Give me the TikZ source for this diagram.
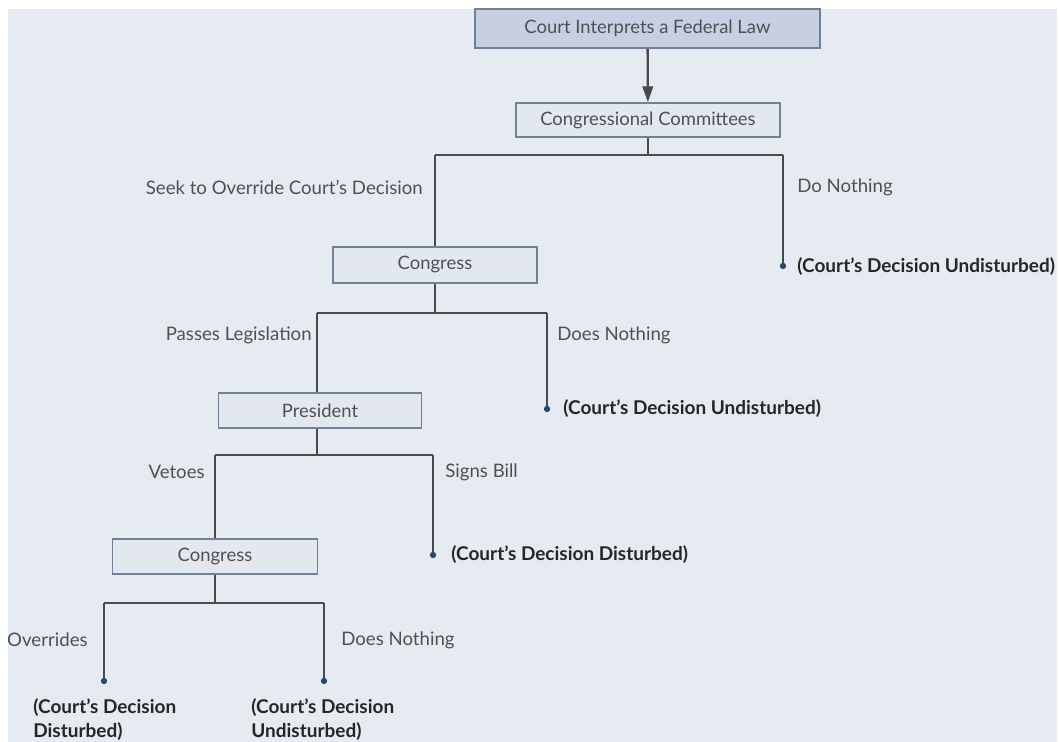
\documentclass[tikz,border=0pt]{standalone}
\usepackage{fontspec}
\setmainfont{Lato}
\usepackage{tikz}
\usetikzlibrary{positioning, arrows.meta}
\definecolor{bgcol}{RGB}{230,235,242}
\definecolor{boxfill}{RGB}{226,231,240}
\definecolor{topfill}{RGB}{198,208,226}
\definecolor{boxline}{RGB}{112,128,150}
\definecolor{linecol}{RGB}{72,74,78}
\definecolor{txtcol}{RGB}{80,80,84}
\definecolor{dotcol}{RGB}{40,70,118}

\tikzset{
  box/.style={draw=boxline, fill=boxfill, line width=1pt, inner sep=0pt,
    text=txtcol, font=\fontsize{10.5}{12}\selectfont},
  topbox/.style={box, fill=topfill},
  branch/.style={draw=linecol, line width=1.1pt},
  choice/.style={text=txtcol, font=\fontsize{10.6}{12}\selectfont, inner sep=0pt},
  result/.style={text=black!85, font=\bfseries\fontsize{10.8}{13.6}\selectfont,
    inner sep=0pt, align=left}
}

\begin{document}
\begin{tikzpicture}[x=0.02cm, y=-0.02cm]

% Fundo
\useasboundingbox (0,0) rectangle (1059,742);
\fill[bgcol] (8,9) rectangle (1057,742);

% Caixas
\node[topbox, minimum width=6.9cm, minimum height=0.78cm] (law) at (647.5,28.5) {Court Interprets a Federal Law};
\node[box, minimum width=5.28cm, minimum height=0.68cm] (cc) at (648,120) {Congressional Committees};
\node[box, minimum width=4.08cm, minimum height=0.72cm] (cong) at (435,265) {Congress};
\node[box, minimum width=4.06cm, minimum height=0.7cm] (pres) at (320,410.5) {President};
\node[box, minimum width=4.1cm, minimum height=0.7cm] (congb) at (215,556.5) {Congress};

\draw[linecol, line width=1.3pt, -{Triangle[length=9pt, width=6pt]}] (law) -- (cc);

% Ramos
\coordinate (ccj) at (648,155);
\coordinate (ccl) at (435,155);
\coordinate (ccr) at (783,155);
\coordinate (endA) at (783,266);

\coordinate (cgj) at (435,313);
\coordinate (cgl) at (317,313);
\coordinate (cgr) at (547,313);
\coordinate (endB) at (547,409);

\coordinate (prj) at (317,455);
\coordinate (prl) at (215,455);
\coordinate (prr) at (433,455);
\coordinate (endC) at (433,555);

\coordinate (cbj) at (215,603);
\coordinate (cbl) at (104,603);
\coordinate (cbr) at (324,603);
\coordinate (endD) at (104,681);
\coordinate (endE) at (324,681);

\draw[branch] (cc) -- (ccj) (ccl) -- (ccr) (ccl) -- (cong) (ccr) -- (endA);
\draw[branch] (cong) -- (cgj) (cgl) -- (cgr) (cgl) -- (cgl |- pres.north) (cgr) -- (endB);
\draw[branch] (pres.south -| prj) -- (prj) (prl) -- (prr) (prl) -- (congb) (prr) -- (endC);
\draw[branch] (congb) -- (cbj) (cbl) -- (cbr) (cbl) -- (endD) (cbr) -- (endE);

\foreach \p in {endA, endB, endC, endD, endE}
  \fill[dotcol] (\p) circle (1.8pt);

% Escolhas
\node[choice, anchor=east] (seek) at (423,187) {Seek to Override Court’s Decision};
\node[choice, anchor=west] (nothA) at (797,187) {Do Nothing};
\node[choice, anchor=east] (pass) at (312,335) {Passes Legislation};
\node[choice, anchor=west] (nothB) at (557,335) {Does Nothing};
\node[choice, anchor=east] (veto) at (205,472) {Vetoes};
\node[choice, anchor=west] (sign) at (445,472) {Signs Bill};
\node[choice, anchor=east] (over) at (88,640) {Overrides};
\node[choice, anchor=west] (nothC) at (341,640) {Does Nothing};

% Resultados
\node[result, anchor=west] (resA) at (797,267) {(Court’s Decision Undisturbed)};
\node[result, anchor=west] (resB) at (563,409) {(Court’s Decision Undisturbed)};
\node[result, anchor=west] (resC) at (451,555) {(Court’s Decision Disturbed)};
\node[result, anchor=north west] (resD) at (33,698) {(Court’s Decision\\Disturbed)};
\node[result, anchor=north west] (resE) at (251,698) {(Court’s Decision\\Undisturbed)};

\end{tikzpicture}
\end{document}
